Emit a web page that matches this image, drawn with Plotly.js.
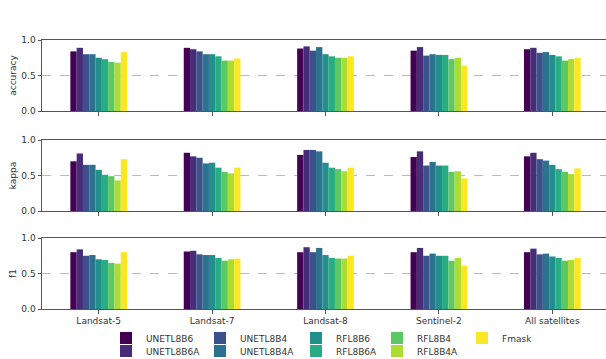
<!DOCTYPE html>
<html><head><meta charset="utf-8">
<script src="https://cdn.plot.ly/plotly-3.0.1.min.js"></script>
<style>html,body{margin:0;padding:0;overflow:hidden;background:#fff}#chart{width:609px;height:359px}</style>
</head><body><div id="chart"></div><script>
const categories = ['Landsat-5','Landsat-7','Landsat-8','Sentinel-2','All satellites'];
const models = ['UNETL8B6','UNETL8B6A','UNETL8B4','UNETL8B4A','RFL8B6','RFL8B6A','RFL8B4','RFL8B4A','Fmask'];
const colors = ['#440154','#472c7a','#3b518b','#2c718e','#21908d','#27ad81','#5cc863','#aadc32','#fde725'];
const metricNames = ['accuracy','kappa','f1'];
// rows: models, columns: categories
const accuracy = [
  [0.84,0.89,0.88,0.85,0.87],
  [0.89,0.87,0.91,0.90,0.89],
  [0.80,0.84,0.85,0.78,0.82],
  [0.80,0.80,0.90,0.80,0.83],
  [0.75,0.80,0.80,0.79,0.79],
  [0.73,0.77,0.77,0.79,0.77],
  [0.69,0.71,0.75,0.73,0.71],
  [0.68,0.71,0.75,0.75,0.73],
  [0.83,0.74,0.77,0.64,0.75]
];
const kappa = [
  [0.70,0.82,0.79,0.76,0.77],
  [0.81,0.77,0.86,0.84,0.82],
  [0.65,0.75,0.86,0.64,0.73],
  [0.65,0.67,0.84,0.69,0.71],
  [0.58,0.68,0.68,0.64,0.65],
  [0.51,0.61,0.61,0.64,0.59],
  [0.49,0.55,0.59,0.55,0.55],
  [0.43,0.53,0.56,0.56,0.52],
  [0.73,0.61,0.61,0.46,0.60]
];
const f1 = [
  [0.80,0.81,0.80,0.80,0.80],
  [0.84,0.82,0.87,0.86,0.85],
  [0.75,0.77,0.80,0.75,0.77],
  [0.76,0.76,0.86,0.78,0.78],
  [0.70,0.76,0.76,0.75,0.74],
  [0.69,0.72,0.72,0.75,0.72],
  [0.65,0.68,0.71,0.68,0.68],
  [0.64,0.70,0.71,0.72,0.69],
  [0.80,0.71,0.75,0.61,0.72]
];
const yTicks = [0, 0.5, 1.0];
const yTickText = ['0.0','0.5','1.0'];

const metrics = [accuracy, kappa, f1];
const W = 609, H = 359, L = 42;
const plotW = W - L;
// panel pixel extents (top, bottom)
const panels = [[40,111],[140,211],[238,309]];
// legend text start x and row centre y (pixels)
const legCols = [146,240,336,417,502];
const legRows = [338,351];

const traces = [];
metrics.forEach((data, p) => {
  models.forEach((m, i) => {
    traces.push({
      type:'bar', x:categories, y:data[i], name:m,
      xaxis: p===0?'x':'x'+(p+1), yaxis: p===0?'y':'y'+(p+1),
      marker:{color:colors[i], line:{width:0}},
      showlegend: p===2, legendgroup:m,
      legend: i===0?'legend':'legend'+(i+1),
      hoverinfo:'skip'
    });
  });
});

const layout = {
  width:W, height:H, margin:{l:L,r:0,t:0,b:0,autoexpand:false},
  paper_bgcolor:'#fff', plot_bgcolor:'#fff',
  barmode:'group', bargap:0.5, bargroupgap:0,
  font:{family:'DejaVu Sans, sans-serif', size:9, color:'#333'},
};
metrics.forEach((d,p)=>{
  const xs = p===0?'xaxis':'xaxis'+(p+1);
  const ys = p===0?'yaxis':'yaxis'+(p+1);
  const ya = p===0?'y':'y'+(p+1);
  const xa = p===0?'x':'x'+(p+1);
  layout[xs] = {
    domain:[0,1], anchor:ya, type:'category', range:[-0.5,4.5],
    showline:true, linecolor:'#555', linewidth:1, mirror:true,
    ticks:'outside', ticklen:3.5, tickcolor:'#555', tickwidth:1,
    showticklabels:p===2, tickfont:{size:9,color:'#333'},
    showgrid:false, zeroline:false, fixedrange:true, automargin:false
  };
  layout[ys] = {
    domain:[1-panels[p][1]/H, 1-panels[p][0]/H], anchor:xa, range:[0,1],
    tickvals:yTicks, ticktext:yTickText, ticks:'outside', ticklen:3.5, tickcolor:'#555',
    showline:true, linecolor:'#555', linewidth:1,
    showgrid:true, gridcolor:'#aaa', griddash:'dash', gridwidth:0.8,
    zeroline:false, tickfont:{size:9,color:'#333'},
    title:{text:metricNames[p], font:{size:9,color:'#333'}, standoff:3},
    fixedrange:true, automargin:false
  };
});
models.forEach((m,i)=>{
  const col = Math.floor(i/2), row = i%2;
  const key = i===0?'legend':'legend'+(i+1);
  layout[key] = {
    x:(legCols[col]-40-L)/plotW, y:1-legRows[row]/H,
    xanchor:'left', yanchor:'middle', orientation:'v',
    bgcolor:'rgba(0,0,0,0)', borderwidth:0,
    font:{size:9,color:'#333'}
  };
});
Plotly.newPlot('chart', traces, layout, {staticPlot:true, displayModeBar:false});
</script></body></html>
